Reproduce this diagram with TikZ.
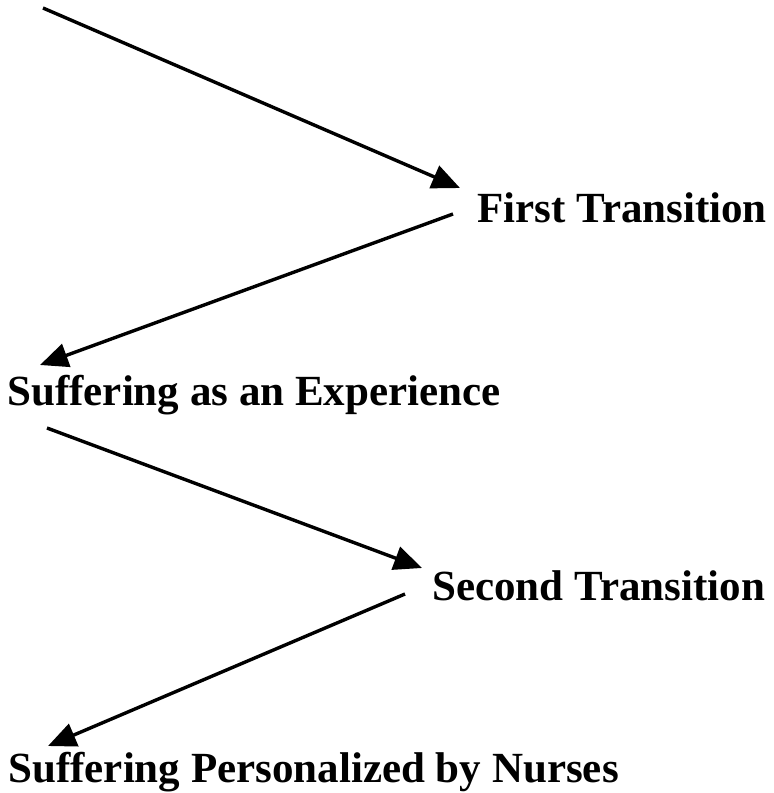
\documentclass[tikz,border=0pt]{standalone}
\usepackage{fontspec}
\setmainfont{Liberation Serif}
\usetikzlibrary{arrows.meta,positioning,calc}
\tikzset{
  stage/.style={inner sep=0pt, anchor=base west, font=\fontsize{21.5}{26}\selectfont\bfseries},
  arrow/.style={-{Triangle[length=14pt,width=12pt]}, line width=1.7pt, draw=black}
}
\begin{document}
\begin{tikzpicture}[x=0.5pt, y=-0.5pt]
  \useasboundingbox (0,0) rectangle (774,793);
  \coordinate (top) at (43,8);
  \node[stage] (first) at (477,222) {First Transition};
  \node[stage] (experience) at (7,405) {Suffering as an Experience};
  \node[stage] (second) at (432,600) {Second Transition};
  \node[stage] (nurses) at (8,782) {Suffering Personalized by Nurses};
  \draw[arrow] (top) -- ([shift={(-17,-34)}]first.base west);
  \draw[arrow] ([shift={(-24,-8)}]first.base west) -- ([shift={(33,-40)}]experience.base west);
  \draw[arrow] ([shift={(40,23)}]experience.base west) -- ([shift={(-10,-32)}]second.base west);
  \draw[arrow] ([shift={(-27,-6)}]second.base west) -- ([shift={(40,-36)}]nurses.base west);
\end{tikzpicture}
\end{document}
